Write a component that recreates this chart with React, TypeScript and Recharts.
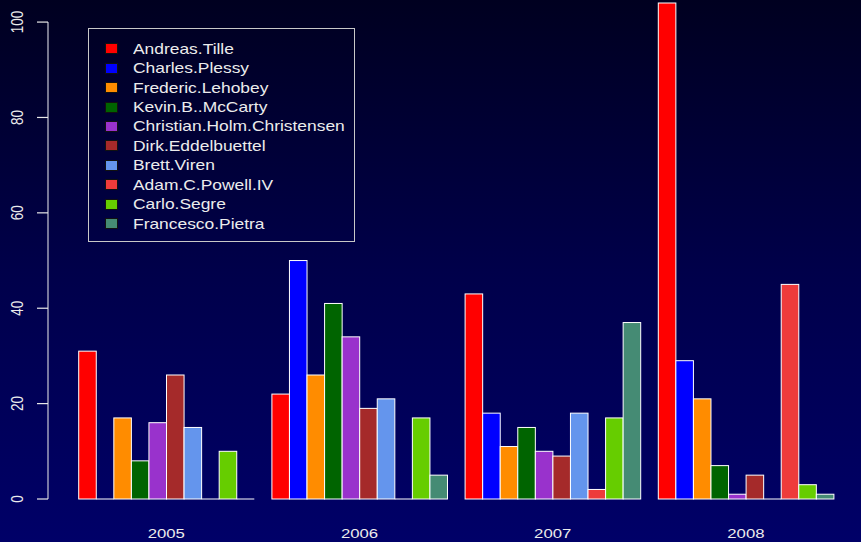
import * as React from 'react'
import { BarChart, Bar, XAxis, YAxis, Legend } from 'recharts'

// commits per year
const YEARS = ['2005', '2006', '2007', '2008']

const NAMES = [
  'Andreas.Tille',
  'Charles.Plessy',
  'Frederic.Lehobey',
  'Kevin.B..McCarty',
  'Christian.Holm.Christensen',
  'Dirk.Eddelbuettel',
  'Brett.Viren',
  'Adam.C.Powell.IV',
  'Carlo.Segre',
  'Francesco.Pietra',
]

const COLORS = [
  '#FF0000',
  '#0000FF',
  '#FF8C00',
  '#006400',
  '#9932CC',
  '#A52A2A',
  '#6495ED',
  '#EE3B3B',
  '#66CD00',
  '#458B74',
]

const andreas = [31, 22, 43, 104]
const charles = [0, 50, 18, 29]
const frederic = [17, 26, 11, 21]
const kevin = [8, 41, 15, 7]
const christian = [16, 34, 10, 1]
const dirk = [26, 19, 9, 5]
const brett = [15, 21, 18, 0]
const adam = [0, 0, 2, 45]
const carlo = [10, 17, 17, 3]
const francesco = [0, 5, 37, 1]

const VALUES = [andreas, charles, frederic, kevin, christian, dirk, brett, adam, carlo, francesco]

const Y_TICKS = [0, 20, 40, 60, 80, 100]
const Y_MAX = 104

const data = YEARS.map((year, i) => {
  const row: Record<string, string | number> = { year }
  NAMES.forEach((name, k) => {
    row[name] = VALUES[k][i]
  })
  return row
})

const W = 861
const H = 542
const TOP = 3
const X_AXIS_H = 43
const PLOT_H = H - TOP - X_AXIS_H
const TEXT = '#ececec'
const FONT = '"Liberation Sans", Arial, sans-serif'

const BarShape = (props: any) => {
  const { x, y, width, height, fill } = props
  if (!height) {
    return <line x1={x} x2={x + width} y1={y} y2={y} stroke="#ffffff" strokeWidth={1} />
  }
  return <rect x={x} y={y} width={width} height={height} fill={fill} stroke="#ffffff" strokeWidth={1} />
}

const YTick = (props: any) => {
  const { y, payload } = props
  const axisLen = (PLOT_H * 100) / Y_MAX
  return (
    <g>
      {payload.value === 0 && (
        <line x1={48} x2={48} y1={y} y2={y - axisLen} stroke="#c8c8d4" strokeWidth={1.2} />
      )}
      <line x1={37} x2={48} y1={y} y2={y} stroke="#e8e8e8" strokeWidth={1.2} />
      <text
        transform={`translate(17, ${y}) rotate(-90) scale(1, 1.22)`}
        textAnchor="middle"
        dominantBaseline="central"
        fontSize={13.5}
        fontFamily={FONT}
        fill={TEXT}
      >
        {payload.value}
      </text>
    </g>
  )
}

const XTick = (props: any) => {
  const { x, payload } = props
  return (
    <text
      transform={`translate(${x}, 537.5) scale(1.24, 1)`}
      textAnchor="middle"
      fontSize={13.5}
      fontFamily={FONT}
      fill={TEXT}
    >
      {payload.value}
    </text>
  )
}

const LegendBox = () => (
  <div
    style={{
      position: 'relative',
      width: 265,
      height: 212,
      border: '1px solid #c8c8c8',
      fontFamily: FONT,
    }}
  >
    {NAMES.map((name, i) => (
      <div
        key={name}
        style={{
          position: 'absolute',
          left: 0,
          top: 10 + i * 19.44,
          height: 19.44,
          width: '100%',
          display: 'flex',
          alignItems: 'center',
        }}
      >
        <span
          style={{
            position: 'absolute',
            left: 16,
            width: 11,
            height: 9,
            background: COLORS[i],
            border: '1px solid #111111',
          }}
        />
        <span
          style={{
            position: 'absolute',
            left: 44,
            fontSize: 14.5,
            color: TEXT,
            whiteSpace: 'nowrap',
            transform: 'scaleX(1.2)',
            transformOrigin: 'left center',
          }}
        >
          {name}
        </span>
      </div>
    ))}
  </div>
)

export default function App() {
  return (
    <div
      style={{
        position: 'fixed',
        left: 0,
        top: 0,
        width: W,
        height: H,
        background: 'linear-gradient(to bottom, #000020 0%, #00004a 50%, #000068 100%)',
      }}
    >
      <BarChart
        width={W}
        height={H}
        data={data}
        margin={{ top: TOP, right: 0, bottom: 0, left: 0 }}
        barGap={0}
        barCategoryGap={0}
      >
        <XAxis
          dataKey="year"
          height={X_AXIS_H}
          axisLine={false}
          tickLine={false}
          padding={{ left: 21.7, right: 18.5 }}
          tick={<XTick />}
          interval={0}
        />
        <YAxis
          width={48}
          domain={[0, Y_MAX]}
          ticks={Y_TICKS}
          axisLine={false}
          tickLine={false}
          tick={<YTick />}
          interval={0}
        />
        <Legend
          layout="vertical"
          align="center"
          verticalAlign="middle"
          wrapperStyle={{ left: 88, top: 28, width: 267, height: 214 }}
          content={<LegendBox />}
        />
        {NAMES.map((name, i) => (
          <Bar
            key={name}
            dataKey={name}
            fill={COLORS[i]}
            barSize={17.56}
            shape={<BarShape />}
            isAnimationActive={false}
          />
        ))}
      </BarChart>
    </div>
  )
}
